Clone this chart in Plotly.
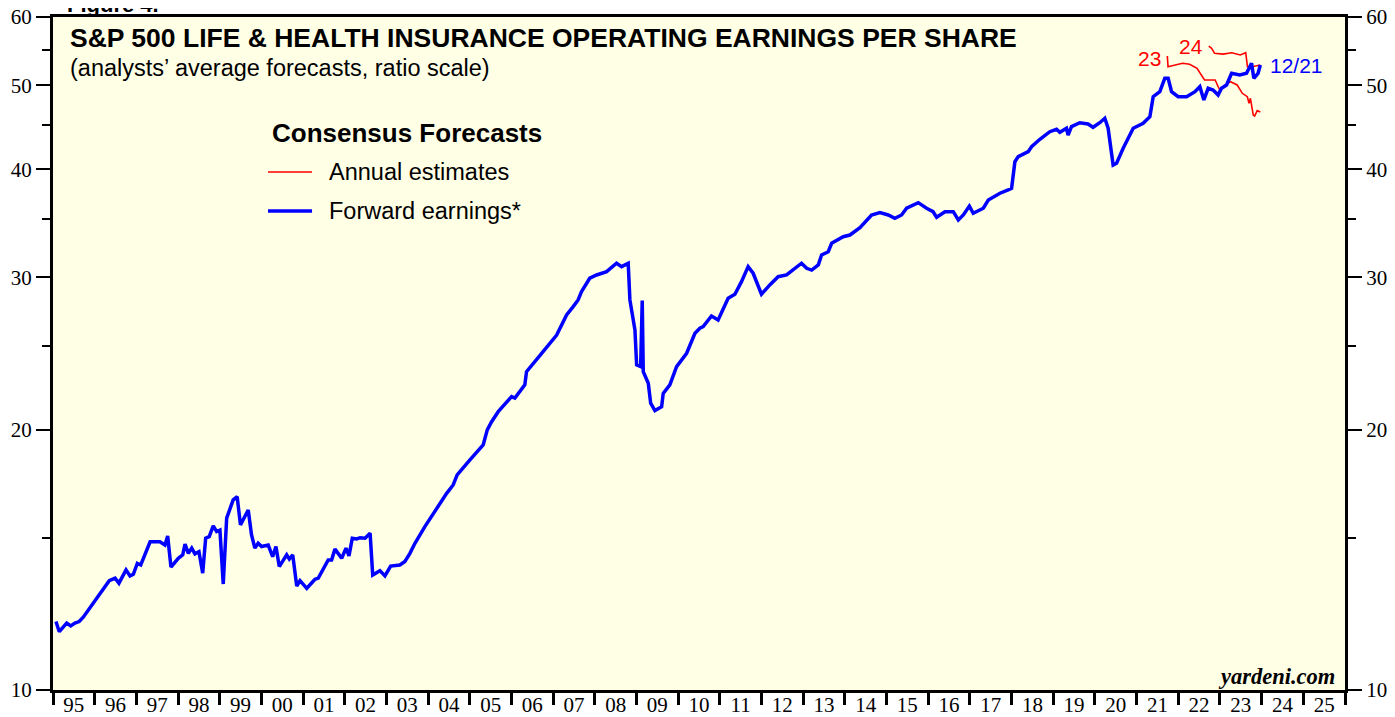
import math
import plotly.graph_objects as go

# forward earnings (weekly consensus)
fwd_dates = [
    "1995-01-27", "1995-02-25", "1995-05-01", "1995-06-05", "1995-07-12", "1995-08-18", "1995-09-23",
    "1995-12-20", "1996-03-17", "1996-05-08", "1996-06-28", "1996-08-01", "1996-10-02", "1996-11-06",
    "1996-12-05", "1997-01-09", "1997-02-08", "1997-05-01", "1997-07-26", "1997-09-08", "1997-10-02",
    "1997-10-31", "1998-01-03", "1998-02-11", "1998-03-03", "1998-04-01", "1998-05-01", "1998-05-29",
    "1998-07-03", "1998-08-05", "1998-08-31", "1998-10-01", "1998-11-05", "1998-12-05", "1999-01-03",
    "1999-02-01", "1999-03-03", "1999-04-29", "1999-06-03", "1999-07-02", "1999-09-08", "1999-10-07",
    "1999-11-05", "1999-12-04", "2000-01-03", "2000-03-01", "2000-04-09", "2000-05-08", "2000-06-06",
    "2000-08-10", "2000-09-02", "2000-10-02", "2000-11-06", "2000-12-05", "2001-02-02", "2001-04-15",
    "2001-05-14", "2001-08-09", "2001-09-08", "2001-10-07", "2001-12-05", "2002-01-12", "2002-02-07",
    "2002-03-08", "2002-04-16", "2002-05-15", "2002-06-28", "2002-08-11", "2002-09-03", "2002-11-05",
    "2002-12-19", "2003-02-07", "2003-04-29", "2003-06-12", "2003-07-26", "2003-09-08", "2003-12-04",
    "2004-03-16", "2004-06-12", "2004-08-08", "2004-09-12", "2005-01-02", "2005-04-28", "2005-06-03",
    "2005-07-11", "2005-09-07", "2006-01-02", "2006-01-31", "2006-04-28", "2006-05-13", "2006-07-09",
    "2006-10-05", "2007-02-01", "2007-04-29", "2007-06-26", "2007-08-08", "2007-09-07", "2007-11-18",
    "2008-01-17", "2008-04-14", "2008-07-10", "2008-08-23", "2008-10-20", "2008-11-04", "2008-12-18",
    "2009-01-02", "2009-02-06", "2009-02-20", "2009-03-01", "2009-04-14", "2009-05-05", "2009-06-11",
    "2009-08-09", "2009-08-23", "2009-10-20", "2009-12-18", "2010-03-16", "2010-05-28", "2010-07-10",
    "2010-08-08", "2010-10-20", "2010-12-17", "2011-03-15", "2011-05-13", "2011-07-10", "2011-09-06",
    "2011-10-20", "2012-01-01", "2012-03-14", "2012-05-26", "2012-08-08", "2012-12-17", "2013-01-31",
    "2013-03-16", "2013-05-13", "2013-06-11", "2013-08-08", "2013-09-07", "2013-12-17", "2014-02-14",
    "2014-05-13", "2014-08-23", "2014-11-04", "2015-01-16", "2015-03-15", "2015-05-13", "2015-06-26",
    "2015-10-06", "2015-12-18", "2016-02-13", "2016-03-15", "2016-05-27", "2016-08-08", "2016-09-21",
    "2016-11-04", "2016-12-27", "2017-01-30", "2017-04-28", "2017-06-11", "2017-09-21", "2017-12-02",
    "2018-01-01", "2018-01-30", "2018-02-28", "2018-05-27", "2018-06-25", "2018-09-06", "2018-12-02",
    "2019-01-30", "2019-02-28", "2019-04-27", "2019-05-11", "2019-06-10", "2019-08-22", "2019-11-02",
    "2019-12-16", "2020-02-13", "2020-03-28", "2020-04-26", "2020-06-09", "2020-07-09", "2020-09-05",
    "2020-12-02", "2021-02-27", "2021-04-27", "2021-05-26", "2021-07-23", "2021-09-05", "2021-10-04",
    "2021-11-03", "2021-12-31", "2022-03-15", "2022-05-27", "2022-07-09", "2022-08-13", "2022-09-20",
    "2022-11-02", "2022-12-16", "2023-01-15", "2023-02-28", "2023-04-13", "2023-06-24", "2023-08-22",
    "2023-10-05", "2023-10-25", "2023-12-01", "2023-12-21",
]
fwd_eps = [
    12.00, 11.68, 11.95, 11.86, 11.95, 12.00, 12.14,
    12.60, 13.11, 13.38, 13.47, 13.29, 13.77, 13.55,
    13.61, 14.01, 13.95, 14.84, 14.84, 14.71, 15.07,
    13.87, 14.20, 14.33, 14.75, 14.39, 14.59, 14.37,
    14.45, 13.65, 14.98, 15.04, 15.48, 15.25, 15.31,
    13.26, 15.80, 16.59, 16.73, 15.52, 16.15, 15.11,
    14.59, 14.78, 14.65, 14.71, 14.26, 14.65, 13.89,
    14.33, 14.17, 14.33, 13.19, 13.38, 13.11, 13.43,
    13.47, 14.14, 14.14, 14.55, 14.20, 14.59, 14.29,
    14.98, 14.95, 15.00, 14.98, 15.18, 13.58, 13.74,
    13.55, 13.91, 13.95, 14.08, 14.39, 14.78, 15.45,
    16.23, 16.88, 17.26, 17.73, 18.45, 19.20, 19.99,
    20.43, 20.98, 21.84, 21.75, 22.53, 23.34, 23.87,
    24.62, 25.73, 27.14, 27.75, 28.25, 28.88, 29.93,
    30.19, 30.46, 31.15, 30.87, 31.15, 28.25, 26.08,
    23.76, 23.65, 28.20, 23.34, 22.63, 21.46, 21.04,
    21.26, 22.03, 22.53, 23.65, 24.51, 25.85, 26.20,
    26.31, 27.07, 26.78, 28.37, 28.68, 29.66, 30.87,
    30.33, 28.68, 29.40, 30.05, 30.19, 31.15, 30.73,
    30.59, 31.01, 31.84, 32.12, 32.85, 33.43, 33.58,
    34.24, 35.42, 35.64, 35.42, 35.11, 35.42, 36.06,
    36.60, 36.06, 35.73, 35.20, 35.73, 35.73, 34.95,
    35.42, 36.27, 35.58, 36.06, 36.86, 37.53, 37.86,
    38.03, 40.82, 41.37, 41.92, 42.48, 43.33, 44.21,
    44.50, 44.14, 44.62, 43.82, 44.81, 45.28, 45.13,
    44.73, 45.28, 45.82, 44.62, 40.46, 40.65, 42.30,
    44.62, 45.21, 46.01, 48.53, 49.18, 50.97, 50.97,
    49.18, 48.53, 48.53, 49.18, 49.84, 48.11, 49.63,
    49.40, 48.75, 49.63, 50.07, 51.65, 51.41, 51.65,
    53.05, 50.97, 51.65, 52.80,
]

# annual estimates for 2023
est23_dates = [
    "2021-09-27", "2021-10-03", "2021-12-05", "2022-02-08", "2022-04-10", "2022-06-14", "2022-08-19",
    "2022-11-20", "2022-12-30", "2023-02-18", "2023-04-03", "2023-06-01", "2023-07-16", "2023-08-29",
    "2023-09-13", "2023-09-25", "2023-10-20", "2023-11-01", "2023-11-24", "2023-12-21",
]
est23_eps = [
    54.08, 52.57, 52.80, 53.05, 52.90, 52.34, 50.74,
    50.74, 49.40, 50.07, 50.51, 50.07, 48.97, 48.53,
    47.68, 48.32, 46.22, 46.10, 46.76, 46.60,
]

# annual estimates for 2024
est24_dates = [
    "2022-09-25", "2022-10-20", "2022-11-15", "2023-01-28", "2023-04-15", "2023-06-28",
    "2023-08-15", "2023-08-30", "2023-10-10", "2023-12-21",
]
est24_eps = [55.54, 55.21, 54.47, 54.36, 54.56, 54.23, 54.56, 52.57, 52.57, 52.80]

major_ticks = [10, 20, 30, 40, 50, 60]
minor_ticks = [15, 25, 35, 45, 55]

RED = "#FF0000"
BLUE = "#0000FF"
SANS = "Liberation Sans, Arial, sans-serif"
SERIF = "Liberation Serif, Times New Roman, serif"

fig = go.Figure()
fig.add_trace(go.Scatter(x=est23_dates, y=est23_eps, mode="lines",
                         line=dict(color=RED, width=1.6), name="23"))
fig.add_trace(go.Scatter(x=est24_dates, y=est24_eps, mode="lines",
                         line=dict(color=RED, width=1.6), name="24"))
fig.add_trace(go.Scatter(x=fwd_dates, y=fwd_eps, mode="lines",
                         line=dict(color=BLUE, width=3.5), name="Forward earnings*"))
# invisible copy so the right-hand y axis and the label x axis get drawn
fig.add_trace(go.Scatter(x=fwd_dates, y=fwd_eps, mode="lines", xaxis="x2", yaxis="y2",
                         line=dict(width=0), opacity=0, hoverinfo="skip", showlegend=False))

yaxis_common = dict(
    type="log",
    range=[1, math.log10(60)],
    tickvals=major_ticks,
    ticktext=[str(v) for v in major_ticks],
    ticks="outside",
    ticklen=14,
    tickwidth=1.5,
    tickcolor="black",
    showgrid=False,
    zeroline=False,
    showline=True,
    linewidth=3,
    linecolor="black",
    automargin=False,
    ticklabeloverflow="allow",
    tickfont=dict(family=SERIF, size=21, color="black"),
    minor=dict(tickvals=minor_ticks, ticks="outside", ticklen=8,
               tickwidth=1.5, tickcolor="black", showgrid=False),
)

xaxis_common = dict(
    type="date",
    range=["1995-01-01", "2026-01-01"],
    tick0="1995-01-01",
    dtick="M12",
    tickformat="%y",
    ticklabelmode="period",
    showgrid=False,
    automargin=False,
    ticklabeloverflow="allow",
    tickfont=dict(family=SERIF, size=21, color="black"),
)

# the page body has an 8px margin, so the figure is a bit smaller than the window
fig.update_layout(
    width=1387,
    height=709,
    margin=dict(l=45, r=50, t=9, b=27, autoexpand=False),
    paper_bgcolor="white",
    plot_bgcolor="#FFFFE6",
    showlegend=False,
    xaxis=dict(
        ticks="outside",
        ticklen=12,
        tickwidth=2.5,
        tickcolor="black",
        showline=True,
        linewidth=3,
        linecolor="black",
        mirror=True,
        showticklabels=False,
        **xaxis_common,
    ),
    # label-only axis so year labels sit right under the ticks
    xaxis2=dict(overlaying="x", anchor="y", side="bottom", ticks="",
                showline=False, **xaxis_common),
    yaxis=dict(side="left", **yaxis_common),
    yaxis2=dict(side="right", overlaying="y", anchor="x", **yaxis_common),
)

annotations = [
    dict(text="Figure 4.", x=0.009, y=1.0193, xref="paper", yref="paper",
         xanchor="left", yanchor="middle", showarrow=False,
         font=dict(family=SANS, size=22, color="black", weight="bold")),
    dict(text="S&P 500 LIFE & HEALTH INSURANCE OPERATING EARNINGS PER SHARE",
         x=0.0116, y=0.9688, xref="paper", yref="paper", xanchor="left", yanchor="middle",
         showarrow=False, font=dict(family=SANS, size=26.5, color="black", weight="bold")),
    dict(text="(analysts\u2019 average forecasts, ratio scale)",
         x=0.0116, y=0.9242, xref="paper", yref="paper", xanchor="left", yanchor="middle",
         showarrow=False, font=dict(family=SANS, size=23.5, color="black")),
    dict(text="Consensus Forecasts", x=0.168, y=0.8276, xref="paper", yref="paper",
         xanchor="left", yanchor="middle", showarrow=False,
         font=dict(family=SANS, size=26, color="black", weight="bold")),
    dict(text="Annual estimates", x=0.2121, y=0.7697, xref="paper", yref="paper",
         xanchor="left", yanchor="middle", showarrow=False,
         font=dict(family=SANS, size=23.5, color="black")),
    dict(text="Forward earnings*", x=0.2121, y=0.7117, xref="paper", yref="paper",
         xanchor="left", yanchor="middle", showarrow=False,
         font=dict(family=SANS, size=23.5, color="black")),
    dict(text="23", x=est23_dates[0], y=math.log10(est23_eps[0]), xref="x", yref="y",
         xanchor="right", yanchor="middle", xshift=-4, yshift=-2, showarrow=False,
         font=dict(family=SANS, size=21, color=RED)),
    dict(text="24", x=est24_dates[0], y=math.log10(est24_eps[0]), xref="x", yref="y",
         xanchor="right", yanchor="middle", xshift=-4, yshift=0, showarrow=False,
         font=dict(family=SANS, size=21, color=RED)),
    dict(text="12/21", x=fwd_dates[-1], y=math.log10(fwd_eps[-1]), xref="x", yref="y",
         xanchor="left", yanchor="middle", xshift=8, showarrow=False,
         font=dict(family=SANS, size=21, color=BLUE)),
    dict(text="<b><i>yardeni.com</i></b>", x=0.9938, y=0.0208, xref="paper", yref="paper",
         xanchor="right", yanchor="middle", showarrow=False,
         font=dict(family=SERIF, size=22.5, color="black")),
]
fig.update_layout(annotations=annotations)

# legend samples
fig.add_shape(type="line", xref="paper", yref="paper", x0=0.1664, x1=0.2005,
              y0=0.7697, y1=0.7697, line=dict(color=RED, width=1.6))
fig.add_shape(type="line", xref="paper", yref="paper", x0=0.1664, x1=0.2005,
              y0=0.7117, y1=0.7117, line=dict(color=BLUE, width=3.5))

fig.write_html("out.html")
